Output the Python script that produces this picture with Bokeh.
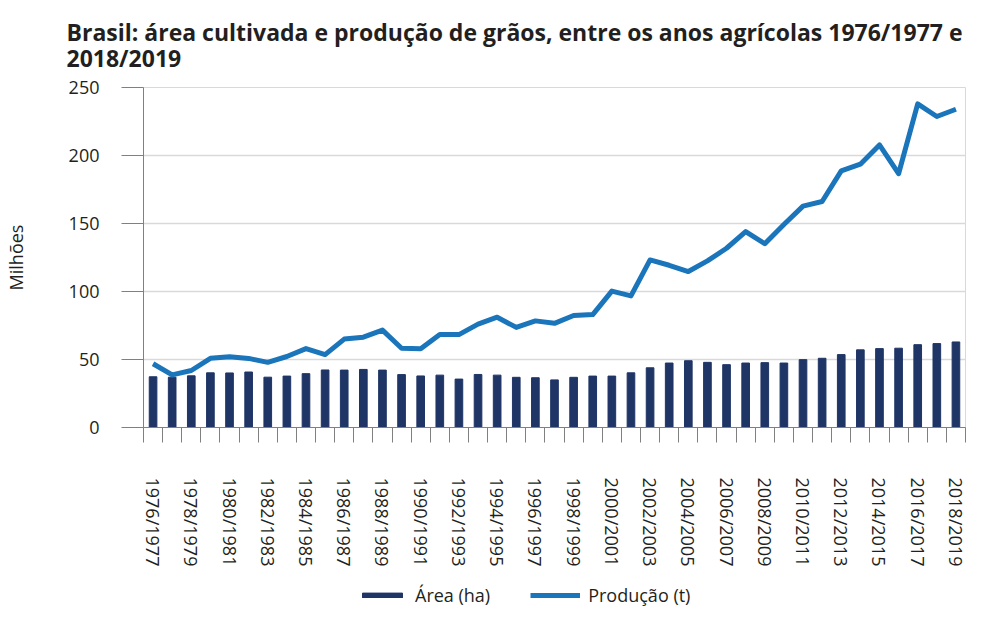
from bokeh.plotting import figure
from bokeh.layouts import column
from bokeh.models import FixedTicker, Legend, LegendItem, ColumnDataSource, Title, Range1d
from bokeh.embed import file_html
from bokeh.resources import INLINE

anos = [f"{y}/{y+1}" for y in range(1976, 2019)]
area_ha = [37.3, 37.0, 38.0, 40.2, 40.1, 40.8, 37.0, 37.8, 39.6, 42.3, 42.2, 42.7, 42.2,
           38.9, 37.9, 38.5, 35.6, 39.0, 38.5, 36.9, 36.6, 35.0, 36.9, 37.8, 37.8, 40.2,
           43.9, 47.4, 49.1, 47.9, 46.2, 47.4, 47.7, 47.4, 49.9, 50.9, 53.6, 57.1, 58.0,
           58.3, 60.9, 61.7, 62.9]
producao_t = [46.9, 38.7, 41.9, 50.9, 52.0, 50.8, 47.9, 52.2, 58.0, 53.6, 65.0, 66.4, 71.6,
              58.3, 57.9, 68.3, 68.3, 76.0, 81.1, 73.6, 78.4, 76.6, 82.4, 83.0, 100.3, 96.8,
              123.2, 119.3, 114.7, 122.5, 131.8, 144.1, 135.1, 149.3, 162.8, 166.2, 188.7,
              193.6, 207.8, 186.6, 238.0, 228.7, 234.0]
y_ticks = [0, 50, 100, 150, 200, 250]

FONT = "Open Sans"
TEXT = "#231f20"
NAVY = "#1f3566"
BLUE = "#1a75bb"

idx = list(range(len(anos)))
src = ColumnDataSource(dict(i=idx, area=area_ha, prod=producao_t))

p = figure(frame_width=822, frame_height=340, output_backend="svg", toolbar_location=None,
           x_range=(-0.5, len(anos) - 0.5), y_range=(0, 250),
           min_border_left=137, min_border_right=7, min_border_top=80, min_border_bottom=155)
p.title = Title(text="Brasil: área cultivada e produção de grãos, entre os anos agrícolas 1976/1977 e\n2018/2019",
                text_font=FONT, text_font_style="bold", text_font_size="23px",
                text_line_height=0.83,
                text_color=TEXT, align="left", offset=-77, standoff=26)
p.background_fill_color = "white"
p.border_fill_color = "white"
p.outline_line_color = "#d9d9d9"

bars = p.vbar(x="i", top="area", width=0.4, color=NAVY, source=src)
ln = p.line(x="i", y="prod", line_width=5, line_color=BLUE, line_join="round", source=src)

xa = p.xaxis[0]
xa.ticker = FixedTicker(ticks=[i for i in idx if i % 2 == 0],
                        minor_ticks=[i - 0.5 for i in idx] + [len(anos) - 0.5])
xa.major_label_overrides = {i: anos[i] for i in idx if i % 2 == 0}
xa.major_label_orientation = "vertical"
xa.major_tick_out = 0
xa.major_tick_in = 0
xa.minor_tick_out = 15
xa.minor_tick_in = 0
xa.minor_tick_line_color = "#808080"
xa.axis_line_color = "#808080"
xa.major_label_standoff = 35
xa.major_label_text_font = FONT
xa.major_label_text_font_size = "18px"
xa.major_label_text_color = TEXT

ya = p.yaxis[0]
ya.ticker = FixedTicker(ticks=y_ticks)
ya.major_tick_out = 22
ya.major_tick_in = 0
ya.minor_tick_out = 0
ya.minor_tick_in = 0
ya.major_tick_line_color = "#808080"
ya.axis_line_color = "#808080"
ya.major_label_standoff = 22
ya.major_label_text_font = FONT
ya.major_label_text_font_size = "18px"
ya.major_label_text_color = TEXT
ya.axis_label = "Milhões"
ya.axis_label_text_font = FONT
ya.axis_label_text_font_size = "18px"
ya.axis_label_text_font_style = "normal"
ya.axis_label_text_color = TEXT
ya.axis_label_standoff = 38

p.xgrid.grid_line_color = None
p.ygrid.ticker = FixedTicker(ticks=y_ticks)
p.ygrid.grid_line_color = "#d9d9d9"
p.ygrid.grid_line_width = 1.5

# legend strip below the chart (legend proxies share the same data, drawn off-range)
pl = figure(width=966, height=28, output_backend="svg", toolbar_location=None,
            x_range=(-0.5, len(anos) - 0.5), y_range=Range1d(1000, 1001),
            x_axis_type=None, y_axis_type=None, min_border=0)
pl.outline_line_color = None
pl.background_fill_color = "white"
pl.border_fill_color = "white"
lbars = pl.vbar(x="i", top="area", width=0.4, color=NAVY, source=src)
lln = pl.line(x="i", y="prod", line_width=5, line_color=BLUE, source=src)

legend = Legend(items=[LegendItem(label="Área (ha)", renderers=[lbars]),
                       LegendItem(label="Produção (t)", renderers=[lln])],
                orientation="horizontal", location=(214, 3),
                glyph_width=50, glyph_height=6, label_standoff=8, spacing=40,
                padding=0, margin=0, border_line_color=None, background_fill_alpha=0,
                label_text_font=FONT, label_text_font_size="18px", label_text_color=TEXT)
pl.add_layout(legend, "center")

layout = column(p, pl, spacing=0)
open("out.html", "w").write(file_html(layout, INLINE))
